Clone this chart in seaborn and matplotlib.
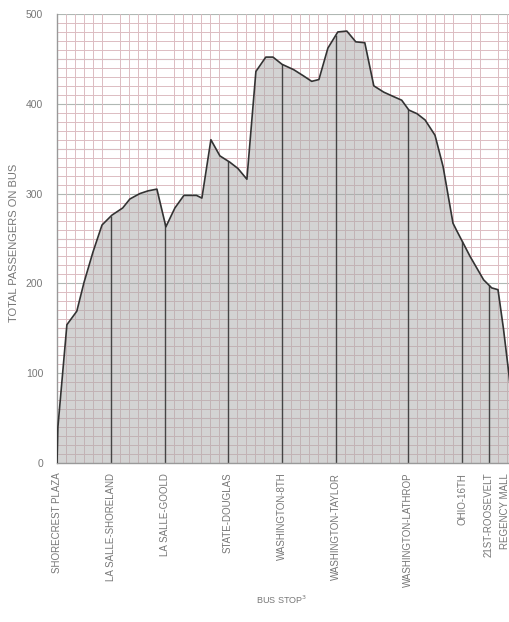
import numpy as np
import pandas as pd
import seaborn as sns
import matplotlib.pyplot as plt

# distancia (una celda de la cuadricula = 1) y pasajeros a bordo
dist = [0, 0.1, 1.1, 2.2, 3.0, 4.0, 5.0, 6.1, 7.3, 8.1, 9.2, 10.1, 11.1, 12.1, 13.1, 14.1,
        15.5, 16.1, 17.1, 18.1, 19.2, 20.1, 21.1, 22.1, 23.2, 24.0, 25.0, 26.3, 27.4, 28.3,
        29.1, 30.1, 31.2, 32.2, 33.2, 34.2, 35.2, 36.3, 37.4, 38.3, 39.1, 40.0, 40.9, 42.0,
        42.9, 44.0, 44.4, 45.9, 47.4, 48.3, 49.0, 49.6, 50.2, 50.8, 51.2]
pasajeros = [0, 40, 154, 169, 201, 235, 265, 276, 284, 294, 300, 303, 305, 263, 284, 298,
             298, 295, 360, 342, 335, 328, 316, 436, 452, 452, 444, 438, 431, 425,
             427, 462, 480, 481, 469, 468, 420, 413, 408, 404, 393, 389, 382, 365,
             330, 267, 259, 230, 204, 195, 193, 150, 100, 40, 0]

paradas = ['SHORECREST PLAZA', 'LA SALLE-SHORELAND', 'LA SALLE-GOOLD', 'STATE-DOUGLAS',
           'WASHINGTON-8TH', 'WASHINGTON-TAYLOR', 'WASHINGTON-LATHROP', 'OHIO-16TH',
           '21ST-ROOSEVELT', 'REGENCY MALL']
pos_paradas = [0, 6, 12, 19, 25, 31, 39, 45, 48, 49.8]

df = pd.DataFrame({'dist': dist, 'pasajeros': pasajeros})

sns.set_style('white')
plt.rcParams['font.family'] = ['Liberation Sans', 'DejaVu Sans']

fig = plt.figure(figsize=(5.09, 6.22), dpi=100)
ax = fig.add_axes([57 / 509, 1 - 463 / 622, 459 / 509, 449 / 622])

# cuadricula tipo papel milimetrado
ax.set_xticks(np.arange(0, 52, 1), minor=True)
ax.set_yticks(np.arange(0, 501, 10), minor=True)
ax.grid(which='minor', color='#dcbcc2', linewidth=0.7)
ax.set_axisbelow(True)
for yy in range(0, 501, 50):
    ax.axhline(yy, color='#b0b8b4', linewidth=0.8, zorder=0.5)

ax.fill_between(df['dist'], df['pasajeros'], color='#a9a9a9', alpha=0.5, zorder=1, linewidth=0)
sns.lineplot(data=df, x='dist', y='pasajeros', color='#333333', linewidth=1.2, ax=ax, zorder=3)

# lineas verticales en cada parada intermedia
alturas = np.interp(pos_paradas, dist, pasajeros)
ax.vlines(pos_paradas[1:-1], 0, alturas[1:-1], color='#444444', linewidth=1.0, zorder=2)

ax.set_xlim(0, 51)
ax.set_ylim(0, 500)
ax.set_xticks(pos_paradas)
ax.set_xticklabels(paradas, rotation=90, fontsize=7, color='#777777')
ax.set_yticks([0, 100, 200, 300, 400, 500])
ax.set_yticklabels(['0', '100', '200', '300', '400', '500'], fontsize=7.5, color='#777777')
ax.tick_params(axis='both', which='both', length=0)
ax.tick_params(axis='x', pad=7)
ax.tick_params(axis='y', pad=10)

ax.set_xlabel('')
ax.set_ylabel('')
fig.text(282 / 509, 1 - 600 / 622, 'BUS STOP$^3$', fontsize=6.5, color='#777777',
         ha='center', va='center')
fig.text(14 / 509, 1 - 243 / 622, 'TOTAL PASSENGERS ON BUS', fontsize=8, color='#777777',
         ha='center', va='center', rotation=90)

for lado in ['left', 'bottom']:
    ax.spines[lado].set_color('#999999')
    ax.spines[lado].set_linewidth(1.0)
for lado in ['top', 'right']:
    ax.spines[lado].set_visible(False)

plt.savefig('out.png', dpi=100)
plt.close()
